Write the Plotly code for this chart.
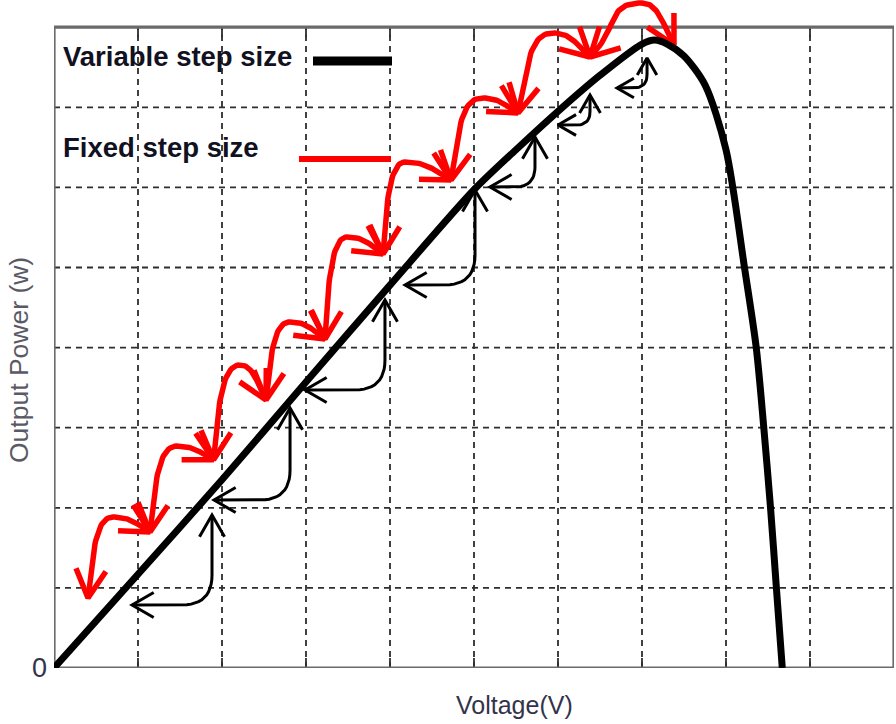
import math
import plotly.graph_objects as go

# ---------------- data ----------------
# P-V curve
voltage = [0, 1, 2, 3, 4, 5, 5.5, 6, 6.5, 7, 7.15, 7.3, 7.5, 7.75, 8.0, 8.22, 8.36, 8.45, 8.53, 8.60, 8.67]
power = [0, 1.17, 2.35, 3.57, 4.78, 5.97, 6.47, 6.95, 7.40, 7.79, 7.84, 7.79, 7.64, 7.28, 6.47, 5.0, 4.0, 3.0, 2.0, 1.0, 0]

# Fixed step size: operating points visited (arc ends) and arc tops
fixed_v = [0.405, 1.143, 1.90, 2.524, 3.226, 3.917, 4.726, 5.524, 6.381, 7.381]
fixed_p = [0.874, 1.698, 2.60, 3.346, 4.107, 5.169, 6.092, 6.929, 7.628, 7.778]
fixed_top_v = [0.702, 1.46, 2.214, 2.810, 3.488, 4.179, 5.095, 5.940, 7.0]
fixed_top_p = [1.885, 2.77, 3.783, 4.320, 5.381, 6.317, 7.116, 7.928, 8.302]

# Variable step size: arrow start (left-pointing tip) and end (up-pointing tip)
var_start_v = [0.929, 1.905, 2.988, 4.179, 5.190, 6.0, 6.702]
var_start_p = [0.787, 2.097, 3.471, 4.782, 6.005, 6.779, 7.241]
var_end_v = [1.881, 2.810, 3.940, 5.012, 5.726, 6.381, 7.060]
var_end_p = [1.910, 3.246, 4.594, 5.968, 6.629, 7.154, 7.616]

# axes / ticks
x_grid = list(range(0, 11))
y_grid = list(range(0, 9))
y_tick_vals = [0]
y_tick_text = ["0"]

legend_labels = ["Variable step size", "Fixed step size"]
x_title = "Voltage(V)"
y_title = "Output Power (w)"

# ---------------- geometry helpers ----------------
W, H = 896, 724
ML, MR, MT, MB = 54, 2, 0, 56
X_MAX = x_grid[-1]
Y_TOP = y_grid[-1]
PW = W - ML - MR
PH = H - MT - MB
SX = PW / X_MAX
SY = 80.1
Y_MAX = PH / SY


def d2p(v, p):
    return (v * SX, -p * SY)


def p2d(pt):
    return (pt[0] / SX, -pt[1] / SY)


def cubic(p0, p1, p2, p3, n=30):
    out = []
    for i in range(n + 1):
        t = i / n
        m = 1 - t
        out.append((m ** 3 * p0[0] + 3 * m * m * t * p1[0] + 3 * m * t * t * p2[0] + t ** 3 * p3[0],
                    m ** 3 * p0[1] + 3 * m * m * t * p1[1] + 3 * m * t * t * p2[1] + t ** 3 * p3[1]))
    return out


def head(tip, d, L, ang):
    n = math.hypot(d[0], d[1])
    bx, by = -d[0] / n, -d[1] / n
    wings = []
    for s in (1, -1):
        a = math.radians(ang) * s
        rx = bx * math.cos(a) - by * math.sin(a)
        ry = bx * math.sin(a) + by * math.cos(a)
        wings.append((tip[0] + L * rx, tip[1] + L * ry))
    return [wings[0], tip, wings[1]]


def add_path(xs, ys, pts):
    for pt in pts:
        v, p = p2d(pt)
        xs.append(v)
        ys.append(p)
    xs.append(None)
    ys.append(None)


# ---------------- red (fixed step) arcs ----------------
rx, ry, rhx, rhy = [], [], [], []
for i in range(len(fixed_top_v)):
    S = d2p(fixed_v[i], fixed_p[i])
    T = d2p(fixed_top_v[i], fixed_top_p[i])
    E = d2p(fixed_v[i + 1], fixed_p[i + 1])
    dxA, dyA = T[0] - S[0], S[1] - T[1]
    r = min(1.0, dxA / dyA)
    a1 = (S[0] + 0.6 * dxA * r, S[1] - 0.55 * dyA)
    a2 = (T[0] - 0.7 * dxA, T[1])
    dxB, dyB = E[0] - T[0], E[1] - T[1]
    b1 = (T[0] + 0.5 * dxB, T[1])
    b2 = (E[0] - 0.35 * dxB, E[1] - 0.5 * dyB)
    pts = cubic(S, a1, a2, T) + cubic(T, b1, b2, E)[1:]
    add_path(rx, ry, pts)
    add_path(rhx, rhy, head(S, (S[0] - a1[0], S[1] - a1[1]), 32, 28))
    add_path(rhx, rhy, head(E, (E[0] - b2[0], E[1] - b2[1]), 32, 28))

# ---------------- black (variable step) arrows ----------------
bx, by, bhx, bhy = [], [], [], []
for i in range(len(var_start_v)):
    S = d2p(var_start_v[i], var_start_p[i])
    E = d2p(var_end_v[i], var_end_p[i])
    K = (E[0], S[1])
    dx, dy = E[0] - S[0], S[1] - E[1]
    rr = min(0.45 * dx, 0.45 * dy, 30)
    q0 = (K[0] - rr, K[1])
    q2 = (K[0], K[1] - rr)
    corner = []
    for j in range(13):
        t = j / 12
        m = 1 - t
        corner.append((m * m * q0[0] + 2 * m * t * K[0] + t * t * q2[0],
                       m * m * q0[1] + 2 * m * t * K[1] + t * t * q2[1]))
    pts = [S] + corner + [E]
    add_path(bx, by, pts)
    L = min(25, 0.65 * max(dx, dy))
    add_path(bhx, bhy, head(S, (-1, 0), L, 30))
    add_path(bhx, bhy, head(E, (0, -1), L, 30))

fig = go.Figure()
fig.add_trace(go.Scatter(x=rx, y=ry, mode="lines", line=dict(color="#ff0000", width=5.5),
                         hoverinfo="skip", showlegend=False))
fig.add_trace(go.Scatter(x=rhx, y=rhy, mode="lines", line=dict(color="#ff0000", width=5.5),
                         hoverinfo="skip", showlegend=False))
fig.add_trace(go.Scatter(x=bx, y=by, mode="lines", line=dict(color="#000000", width=3),
                         hoverinfo="skip", showlegend=False))
fig.add_trace(go.Scatter(x=bhx, y=bhy, mode="lines", line=dict(color="#000000", width=3),
                         hoverinfo="skip", showlegend=False))
fig.add_trace(go.Scatter(x=voltage, y=power, mode="lines",
                         line=dict(color="#000000", width=7, shape="spline", smoothing=0.8),
                         name="P-V curve", showlegend=False))

# ---------------- grid, frame, ticks ----------------
shapes = []
grid_line = dict(color="#2e2e2e", width=1.8, dash="6px,5px")
for gx in x_grid[1:-1]:
    shapes.append(dict(type="line", xref="x", yref="y", x0=gx, x1=gx, y0=0, y1=Y_TOP,
                       line=grid_line, layer="below"))
    shapes.append(dict(type="line", xref="x", yref="y", x0=gx, x1=gx, y0=0, y1=10 / SY,
                       line=dict(color="#2e2e2e", width=1.8), layer="below"))
    shapes.append(dict(type="line", xref="x", yref="y", x0=gx, x1=gx, y0=Y_TOP - 10 / SY, y1=Y_TOP,
                       line=dict(color="#2e2e2e", width=1.8), layer="below"))
for gy in y_grid[1:-1]:
    shapes.append(dict(type="line", xref="x", yref="y", x0=0, x1=X_MAX, y0=gy, y1=gy,
                       line=grid_line, layer="below"))
shapes.append(dict(type="rect", xref="x", yref="y", x0=0, x1=X_MAX, y0=0, y1=Y_TOP,
                   line=dict(color="#6a6a6a", width=3.2), layer="below"))


def px_paper(x, y):
    return ((x - ML) / PW, (H - MB - y) / PH)


# legend line samples
lx0, ly0 = px_paper(313, 61)
lx1, _ = px_paper(392, 61)
shapes.append(dict(type="line", xref="paper", yref="paper", x0=lx0, x1=lx1, y0=ly0, y1=ly0,
                   line=dict(color="#000000", width=9)))
lx0, ly0 = px_paper(299, 159)
lx1, _ = px_paper(391, 159)
shapes.append(dict(type="line", xref="paper", yref="paper", x0=lx0, x1=lx1, y0=ly0, y1=ly0,
                   line=dict(color="#ff0000", width=6)))

annotations = []
ax, ay = px_paper(61, 57)
annotations.append(dict(text=legend_labels[0], x=ax, y=ay, xref="paper", yref="paper",
                        xanchor="left", yanchor="middle", showarrow=False,
                        font=dict(family="Liberation Sans, Arial", size=27.5, color="#111122", weight="bold")))
ax, ay = px_paper(61, 148)
annotations.append(dict(text=legend_labels[1], x=ax, y=ay, xref="paper", yref="paper",
                        xanchor="left", yanchor="middle", showarrow=False,
                        font=dict(family="Liberation Sans, Arial", size=27.5, color="#111122", weight="bold")))
ax, ay = px_paper(514, 705)
annotations.append(dict(text=x_title, x=ax, y=ay, xref="paper", yref="paper",
                        xanchor="center", yanchor="middle", showarrow=False,
                        font=dict(family="Liberation Sans, Arial", size=25, color="#33334a")))
ax, ay = px_paper(19, 360)
annotations.append(dict(text=y_title, x=ax, y=ay, xref="paper", yref="paper", textangle=-90,
                        xanchor="center", yanchor="middle", showarrow=False,
                        font=dict(family="Liberation Sans, Arial", size=26.5, color="#5a5a66")))

fig.update_layout(
    width=W, height=H,
    margin=dict(l=ML, r=MR, t=MT, b=MB, pad=0),
    paper_bgcolor="white", plot_bgcolor="white",
    shapes=shapes, annotations=annotations,
    xaxis=dict(range=[0, X_MAX], showgrid=False, zeroline=False, showline=False,
               showticklabels=False, ticks="", fixedrange=True),
    yaxis=dict(range=[0, Y_MAX], showgrid=False, zeroline=False, showline=False,
               tickvals=y_tick_vals, ticktext=y_tick_text, ticks="", ticklabelstandoff=6,
               tickfont=dict(family="Liberation Sans Narrow, Liberation Sans, Arial", size=27, color="#33334a"),
               fixedrange=True),
)

fig.write_html("out.html")
